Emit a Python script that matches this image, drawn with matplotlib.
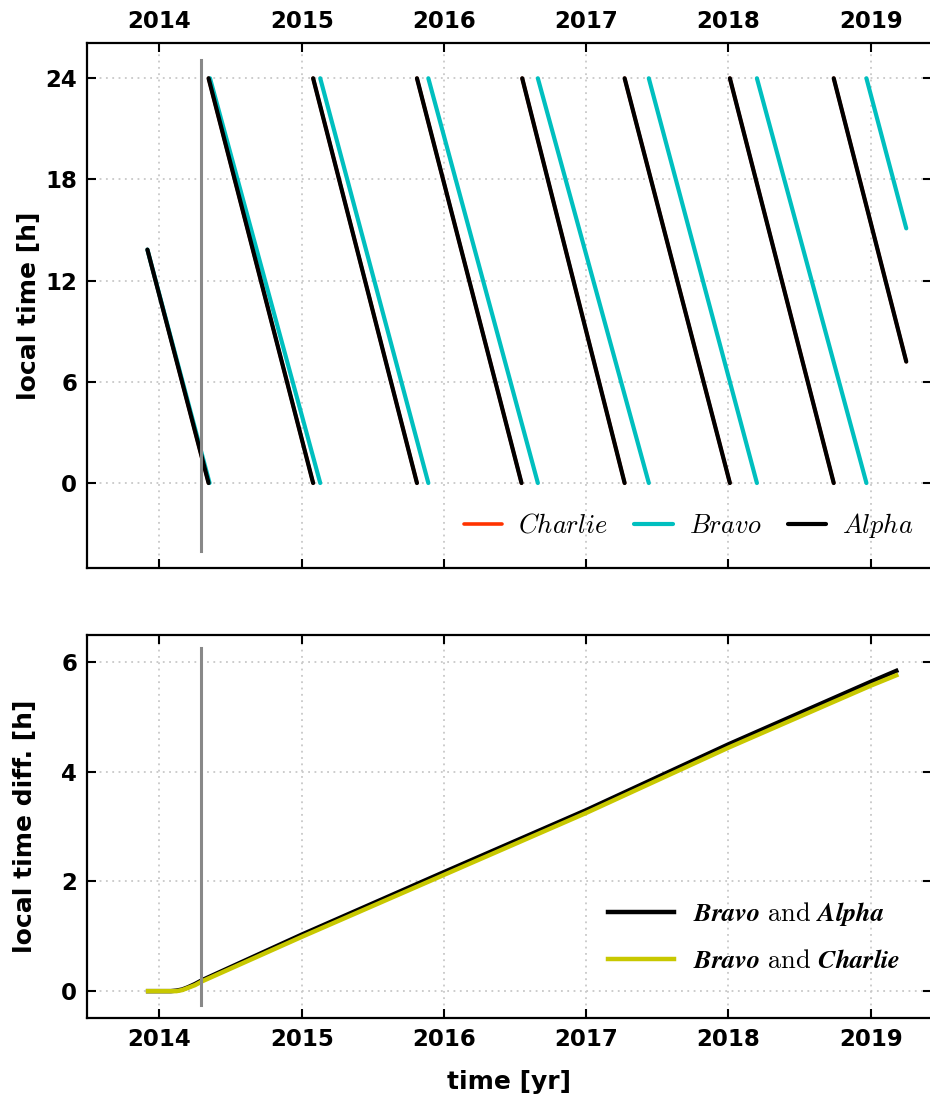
import matplotlib
matplotlib.use("Agg")
import matplotlib.pyplot as plt
import numpy as np

plt.rcParams["font.family"] = "DejaVu Sans"
plt.rcParams["font.weight"] = "bold"
plt.rcParams["mathtext.fontset"] = "cm"

# --- top panel: local time of each spacecraft (straight segments) ---
alpha_t_start = [2013.915, 2014.345, 2015.08, 2015.81, 2016.55, 2017.27, 2018.01, 2018.74]
alpha_t_end = [2014.345, 2015.08, 2015.81, 2016.545, 2017.27, 2018.01, 2018.74, 2019.25]
alpha_lt_start = [13.84, 24, 24, 24, 24, 24, 24, 24]
alpha_lt_end = [0, 0, 0, 0, 0, 0, 0, 7.2]

bravo_t_start = [2013.915, 2014.355, 2015.13, 2015.89, 2016.66, 2017.44, 2018.20, 2018.97]
bravo_t_end = [2014.352, 2015.13, 2015.89, 2016.66, 2017.44, 2018.20, 2018.97, 2019.25]
bravo_lt_start = [13.84, 24, 24, 24, 24, 24, 24, 24]
bravo_lt_end = [0, 0, 0, 0, 0, 0, 0, 15.1]

# Charlie sits under Alpha (not visible in the panel)
charlie_t_start = alpha_t_start
charlie_t_end = alpha_t_end
charlie_lt_start = alpha_lt_start
charlie_lt_end = alpha_lt_end

# --- bottom panel: local time differences ---
diff_t = [2013.92, 2014.0, 2014.08, 2014.12, 2014.16, 2014.20, 2014.25, 2014.30,
          2015.0, 2016.0, 2017.0, 2018.0, 2019.0, 2019.18]
diff_bravo_alpha = [0.0, 0.0, 0.0, 0.01, 0.03, 0.07, 0.13, 0.20,
                    1.03, 2.17, 3.30, 4.50, 5.64, 5.84]
diff_bravo_charlie = [0.0, 0.0, 0.0, 0.0, 0.02, 0.06, 0.11, 0.18,
                      0.99, 2.12, 3.25, 4.44, 5.57, 5.76]

event_time = 2014.29
year_ticks = [2014, 2015, 2016, 2017, 2018, 2019]

fig = plt.figure(figsize=(9.3, 10.99), dpi=100)
ax1 = fig.add_axes([0.0935, 0.483, 0.9085, 0.478])
ax2 = fig.add_axes([0.0935, 0.0737, 0.9085, 0.3483])


def draw_segments(ax, t0, t1, l0, l1, color, label, lw=3.0, z=2):
    for i in range(len(t0)):
        ax.plot([t0[i], t1[i]], [l0[i], l1[i]], color=color, lw=lw,
                solid_capstyle="round", zorder=z,
                label=label if i == 0 else None)


draw_segments(ax1, charlie_t_start, charlie_t_end, charlie_lt_start, charlie_lt_end,
              "#ff3300", r"$\mathit{Charlie}$", lw=2.6, z=2)
draw_segments(ax1, bravo_t_start, bravo_t_end, bravo_lt_start, bravo_lt_end,
              "#00bfbf", r"$\mathit{Bravo}$", z=3)
draw_segments(ax1, alpha_t_start, alpha_t_end, alpha_lt_start, alpha_lt_end,
              "black", r"$\mathit{Alpha}$", z=4)

ax2.plot(diff_t, diff_bravo_alpha, color="black", lw=3.2, zorder=3,
         label=r"$\mathbfit{Bravo}\ \mathrm{and}\ \mathbfit{Alpha}$")
ax2.plot(diff_t, diff_bravo_charlie, color="#c8c800", lw=3.2, zorder=4,
         label=r"$\mathbfit{Bravo}\ \mathrm{and}\ \mathbfit{Charlie}$")

for ax in (ax1, ax2):
    ax.axvline(event_time, ymin=0.033, ymax=0.967, color="#888888", lw=2.2, zorder=5)
    ax.set_xlim(2013.49, 2019.43)
    ax.set_xticks(year_ticks)
    ax.grid(True, linestyle=(0, (1, 2.5)), color="#c8c8c8", lw=1.3)
    ax.tick_params(axis="both", which="major", direction="in", length=6.5, width=1.5,
                   labelsize=16.5, top=True, bottom=True, left=True, right=True, pad=7)
    for s in ax.spines.values():
        s.set_linewidth(1.6)

ax1.set_ylim(-5.05, 26.1)
ax1.set_yticks([0, 6, 12, 18, 24])
ax1.tick_params(axis="x", labeltop=True, labelbottom=False)
ax1.set_ylabel("local time [h]", fontsize=18, fontweight="bold")
ax1.yaxis.set_label_coords(-0.054, 0.5)
ax1.legend(loc="lower right", ncol=3, frameon=False, fontsize=19,
           handlelength=1.45, handletextpad=0.6, columnspacing=1.0,
           borderaxespad=0.0, bbox_to_anchor=(0.9905, 0.034))

ax2.set_ylim(-0.49, 6.49)
ax2.set_yticks([0, 2, 4, 6])
ax2.set_xlabel("time [yr]", fontsize=18, fontweight="bold", labelpad=14)
ax2.set_ylabel("local time diff. [h]", fontsize=18, fontweight="bold")
ax2.yaxis.set_label_coords(-0.059, 0.5)
ax2.legend(loc="lower right", frameon=False, fontsize=19,
           handlelength=2.5, handletextpad=0.7, labelspacing=0.75,
           borderaxespad=0.0, bbox_to_anchor=(0.975, 0.088))

fig.savefig("out.png", dpi=100)
